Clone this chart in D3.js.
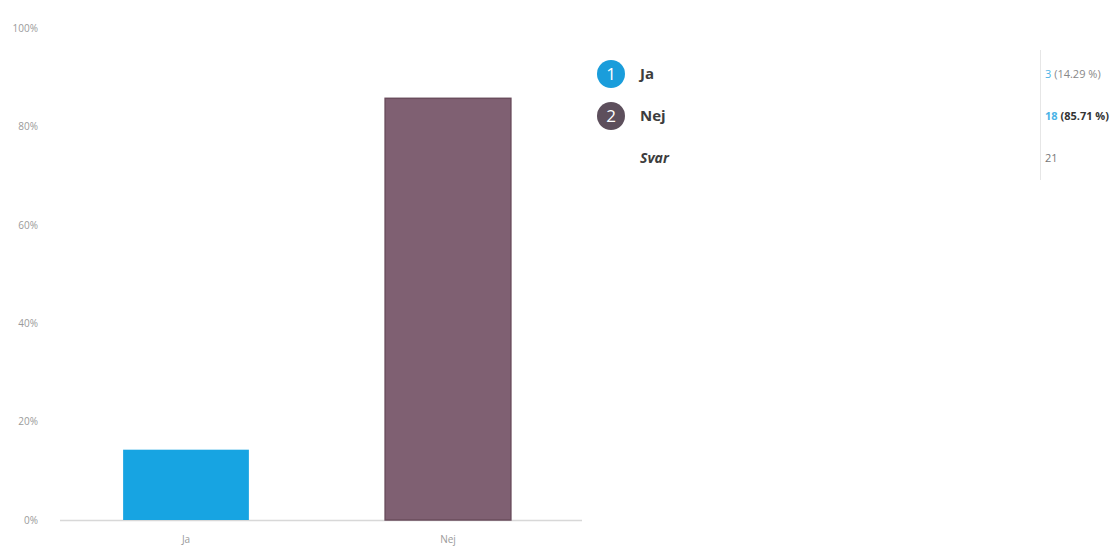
<!DOCTYPE html>
<html>
<head>
<meta charset="utf-8">
<script src="https://cdn.jsdelivr.net/npm/d3@7"></script>
<style>
	body { margin: 0; background: #fff; }
	#container { width: 1119px; height: 549px; }
	text { font-family: "Open Sans", sans-serif; }
</style>
</head>
<body>
<div id="container"></div>
<script>
////////// DATA

var categories = ["Ja", "Nej"];
var counts = [3, 18];
var percents = [14.29, 85.71];
var total = 21;
var yTicks = [0, 20, 40, 60, 80, 100];
var totalLabel = "Svar";

////////// DRAWING

var gWidth = 1119;
var gHeight = 549;

var color_ja = "#17a4e2";
var color_nej = "#7f6072";
var barColors = [color_ja, color_nej];
var badgeColors = ["#1a9ddb", "#5d4f5c"];

var svg = d3.select("#container").append("svg")
	.attr("width", gWidth)
	.attr("height", gHeight);

var x = d3.scaleBand()
	.domain(categories)
	.range([55, 579])
	.paddingInner(0.52)
	.paddingOuter(0.26);

var y = d3.scaleLinear()
	.domain([0, 100])
	.range([520, 28]);

// Y axis labels (no line)
var yAxis = d3.axisLeft(y)
	.tickValues(yTicks)
	.tickFormat(function(d) { return d + "%"; })
	.tickSize(0)
	.tickPadding(0);
var gy = svg.append("g")
	.attr("transform", "translate(38,0)")
	.call(yAxis);
gy.select(".domain").remove();
gy.selectAll("text")
	.style("font-size", "10px")
	.style("fill", "#9a9a9a");

// baseline
svg.append("line")
	.attr("x1", 60)
	.attr("x2", 582)
	.attr("y1", y(0) + 0.5)
	.attr("y2", y(0) + 0.5)
	.style("stroke", "#d8d8d8")
	.style("stroke-width", "1.5px");

// bars
svg.selectAll(".bar").data(categories).enter().append("rect")
	.attr("class", "bar")
	.attr("x", function(d) { return x(d); })
	.attr("width", x.bandwidth())
	.attr("y", function(d, i) { return y(percents[i]); })
	.attr("height", function(d, i) { return y(0) - y(percents[i]); })
	.attr("fill", function(d, i) { return barColors[i]; })
	.style("stroke", function(d, i) { return i == 1 ? "#6a4c5c" : "none"; })
	.style("stroke-width", "1.5px");

// X axis labels
var xAxis = d3.axisBottom(x).tickSize(0).tickPadding(0);
var gx = svg.append("g")
	.attr("transform", "translate(0,536)")
	.call(xAxis);
gx.select(".domain").remove();
gx.selectAll("text")
	.style("font-size", "10px")
	.style("fill", "#9a9a9a");

// legend / table on the right
var rowY = d3.scaleBand()
	.domain(d3.range(3))
	.range([53, 179]);

var rows = svg.selectAll(".row").data(categories).enter().append("g")
	.attr("class", "row")
	.attr("transform", function(d, i) { return "translate(0," + (rowY(i) + rowY.bandwidth() / 2) + ")"; });

rows.append("circle")
	.attr("cx", 611)
	.attr("cy", 0)
	.attr("r", 14)
	.attr("fill", function(d, i) { return badgeColors[i]; });

rows.append("text")
	.attr("x", 611)
	.attr("y", 6)
	.attr("text-anchor", "middle")
	.style("font-size", "17px")
	.style("fill", "#fff")
	.text(function(d, i) { return i + 1; });

rows.append("text")
	.attr("x", 640)
	.attr("y", 5)
	.style("font-size", "15px")
	.style("font-weight", "bold")
	.style("fill", "#3d3d3d")
	.text(function(d) { return d; });

var vals = rows.append("text")
	.attr("x", 1045)
	.attr("y", 4)
	.style("font-size", "11px")
	.style("font-weight", function(d, i) { return i == 1 ? "bold" : "normal"; })
	.style("fill", function(d, i) { return i == 1 ? "#333" : "#888"; });
vals.append("tspan")
	.style("fill", "#4bb3e6")
	.text(function(d, i) { return counts[i]; });
vals.append("tspan")
	.text(function(d, i) { return " (" + percents[i].toFixed(2) + " %)"; });

// total row
var totalY = rowY(2) + rowY.bandwidth() / 2;
svg.append("text")
	.attr("x", 640)
	.attr("y", totalY + 5)
	.style("font-size", "14px")
	.style("font-weight", "bold")
	.style("font-style", "italic")
	.style("fill", "#3d3d3d")
	.text(totalLabel);

svg.append("text")
	.attr("x", 1045)
	.attr("y", totalY + 4)
	.style("font-size", "11px")
	.style("fill", "#777")
	.text(total);

// divider line
svg.append("line")
	.attr("x1", 1040.5)
	.attr("x2", 1040.5)
	.attr("y1", 50)
	.attr("y2", 180)
	.style("stroke", "#e6e6e6")
	.style("stroke-width", "1px");
</script>
</body>
</html>
